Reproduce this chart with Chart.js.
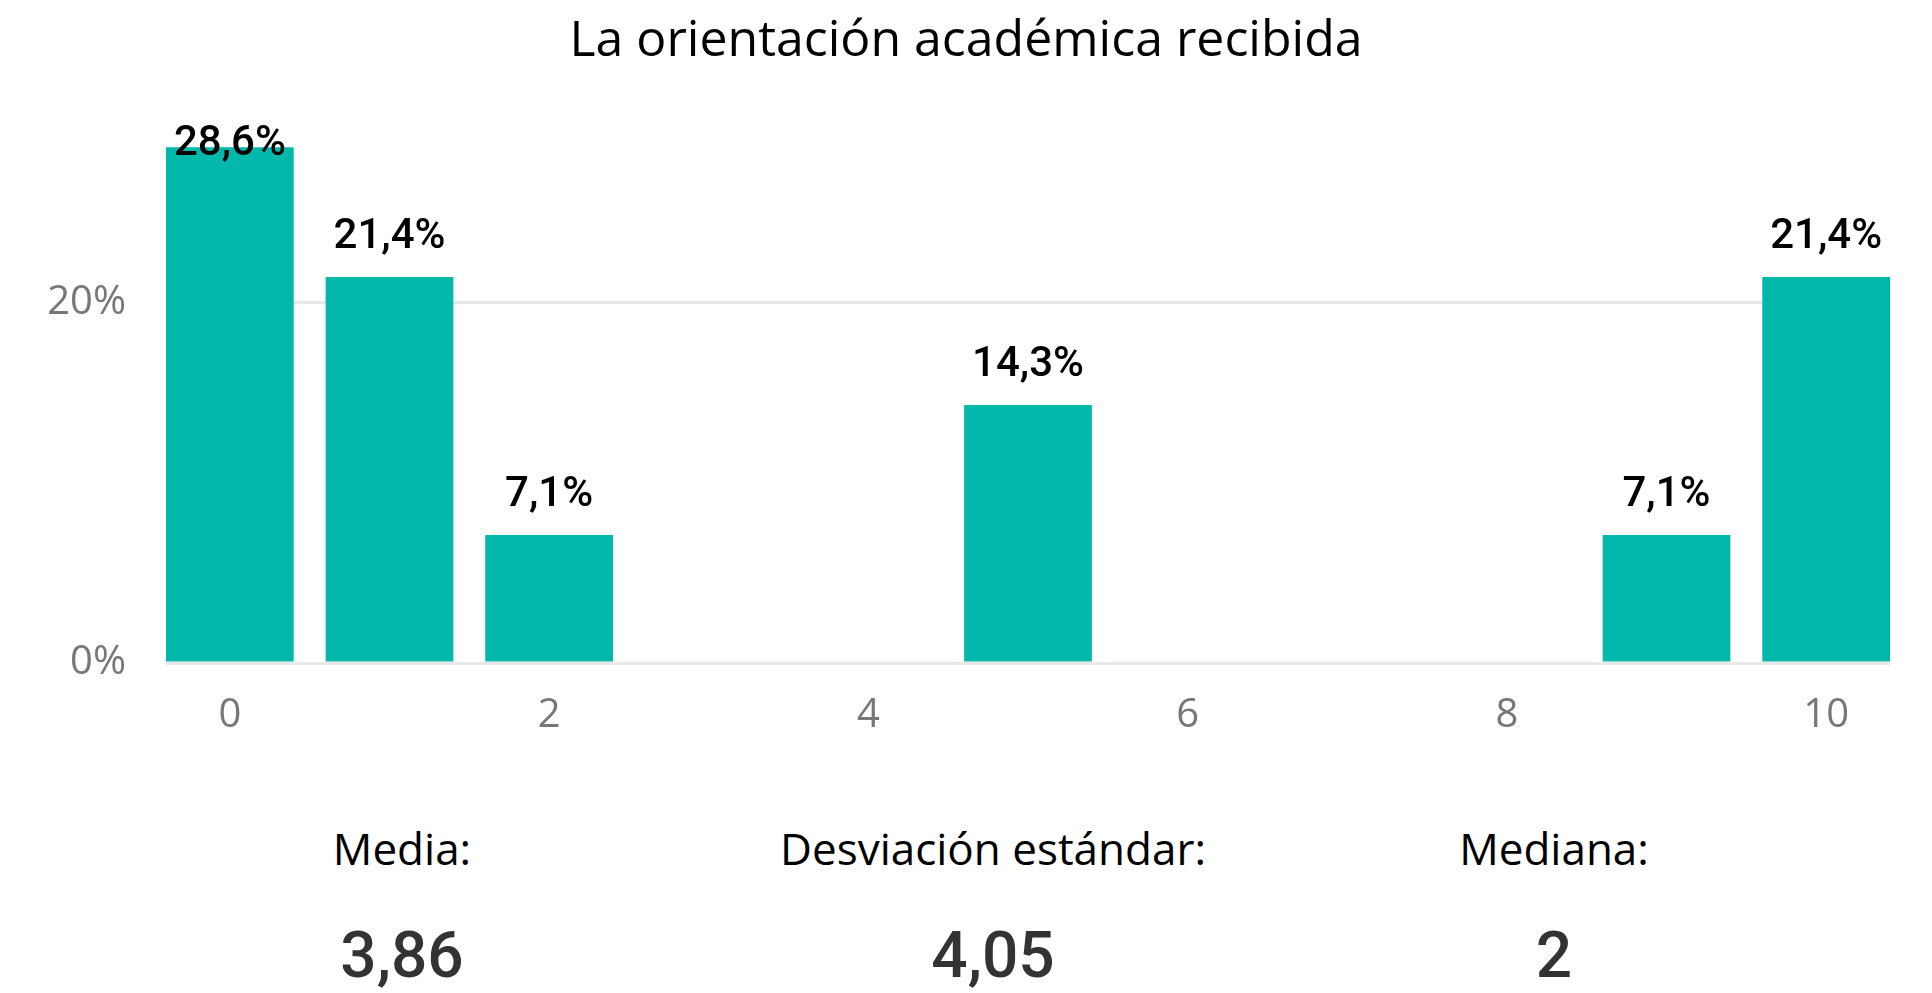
<!DOCTYPE html>
<html lang="es">
<head>
<meta charset="utf-8">
<title>La orientación académica recibida</title>
<script src="https://cdn.jsdelivr.net/npm/chart.js@4/dist/chart.umd.min.js"></script>
<style>
    body {
        margin: 0;
        background: #fff;
        width: 1932px;
        height: 993px;
        overflow: hidden;
        position: relative;
    }
    #chartBox {
        position: absolute;
        left: 0;
        top: 0;
        width: 1932px;
        height: 760px;
    }
    .stat {
        position: absolute;
        width: 600px;
        text-align: center;
        line-height: 1;
        white-space: nowrap;
    }
    .stat-label {
        font-family: 'Open Sans', sans-serif;
        font-weight: 400;
        font-size: 44px;
        color: #000;
    }
    .stat-value {
        font-family: Roboto, sans-serif;
        font-weight: 500;
        font-size: 64px;
        color: #333;
    }
</style>
</head>
<body>
<div id="chartBox"><canvas id="histChart"></canvas></div>
<div id="stats"></div>

<script>
// Puntuaciones 0-10 y porcentaje de respuestas
const puntuaciones = [0, 1, 2, 3, 4, 5, 6, 7, 8, 9, 10];
const porcentajes = [28.6, 21.4, 7.1, 0, 0, 14.3, 0, 0, 0, 7.1, 21.4];
const ejeYTicks = [0, 20];
const ejeXTicks = [0, 2, 4, 6, 8, 10];

const statLabels = ['Media:', 'Desviación estándar:', 'Mediana:'];
const statValues = ['3,86', '4,05', '2'];
const statCenters = [402, 993, 1554];

const tealColor = '#01B8AA';

function formatPct(v) {
    return v.toFixed(1).replace('.', ',') + '%';
}

// draws the value labels above each bar
const barLabels = {
    id: 'barLabels',
    afterDatasetsDraw(chart) {
        const ctx = chart.ctx;
        const meta = chart.getDatasetMeta(0);
        const area = chart.chartArea;
        ctx.save();
        ctx.font = "500 42px Roboto, sans-serif";
        ctx.fillStyle = '#000';
        ctx.textAlign = 'center';
        ctx.textBaseline = 'alphabetic';
        meta.data.forEach((bar, i) => {
            const v = porcentajes[i];
            if (!v) return;
            const y = Math.max(bar.y - 29, area.top + 33);
            ctx.fillText(formatPct(v), bar.x, y);
        });
        ctx.restore();
    }
};

function initializeChart() {
    new Chart(document.getElementById('histChart'), {
        type: 'bar',
        data: {
            datasets: [{
                data: puntuaciones.map((p, i) => ({ x: p, y: porcentajes[i] })),
                backgroundColor: tealColor,
                borderWidth: 0,
                categoryPercentage: 1,
                barPercentage: 0.8
            }]
        },
        options: {
            responsive: true,
            maintainAspectRatio: false,
            animation: false,
            layout: {
                padding: { left: 42, right: 42, top: 0, bottom: 0 }
            },
            plugins: {
                legend: { display: false },
                tooltip: { enabled: false },
                title: {
                    display: true,
                    text: 'La orientación académica recibida',
                    color: '#000',
                    font: {
                        family: "'Open Sans', sans-serif",
                        size: 50,
                        weight: '400'
                    },
                    padding: { top: 12, bottom: 50 }
                }
            },
            scales: {
                x: {
                    type: 'linear',
                    min: -0.4,
                    max: 10.4,
                    offset: false,
                    grid: { display: false },
                    border: { display: false },
                    afterFit: (scale) => { scale.height = 97; },
                    afterBuildTicks: (scale) => {
                        scale.ticks = ejeXTicks.map(v => ({ value: v }));
                    },
                    ticks: {
                        color: '#777',
                        padding: 21,
                        maxRotation: 0,
                        font: { family: "'Open Sans', sans-serif", size: 40, weight: '400' }
                    }
                },
                y: {
                    min: 0,
                    max: 30,
                    grid: {
                        color: '#e8e8e8',
                        lineWidth: 3,
                        drawTicks: false
                    },
                    border: { display: false },
                    afterFit: (scale) => { scale.width = 124; },
                    afterBuildTicks: (scale) => {
                        scale.ticks = ejeYTicks.map(v => ({ value: v }));
                    },
                    ticks: {
                        color: '#777',
                        padding: 40,
                        callback: (v) => v + '%',
                        font: { family: "'Open Sans', sans-serif", size: 40, weight: '400' }
                    }
                }
            }
        },
        plugins: [barLabels]
    });
}

function buildStats() {
    const box = document.getElementById('stats');
    statLabels.forEach((label, i) => {
        const l = document.createElement('div');
        l.className = 'stat stat-label';
        l.style.left = (statCenters[i] - 300) + 'px';
        l.style.top = '826px';
        l.textContent = label;
        box.appendChild(l);

        const v = document.createElement('div');
        v.className = 'stat stat-value';
        v.style.left = (statCenters[i] - 300) + 'px';
        v.style.top = '924px';
        v.textContent = statValues[i];
        box.appendChild(v);
    });
}

document.addEventListener('DOMContentLoaded', () => {
    initializeChart();
    buildStats();
});
</script>
</body>
</html>
